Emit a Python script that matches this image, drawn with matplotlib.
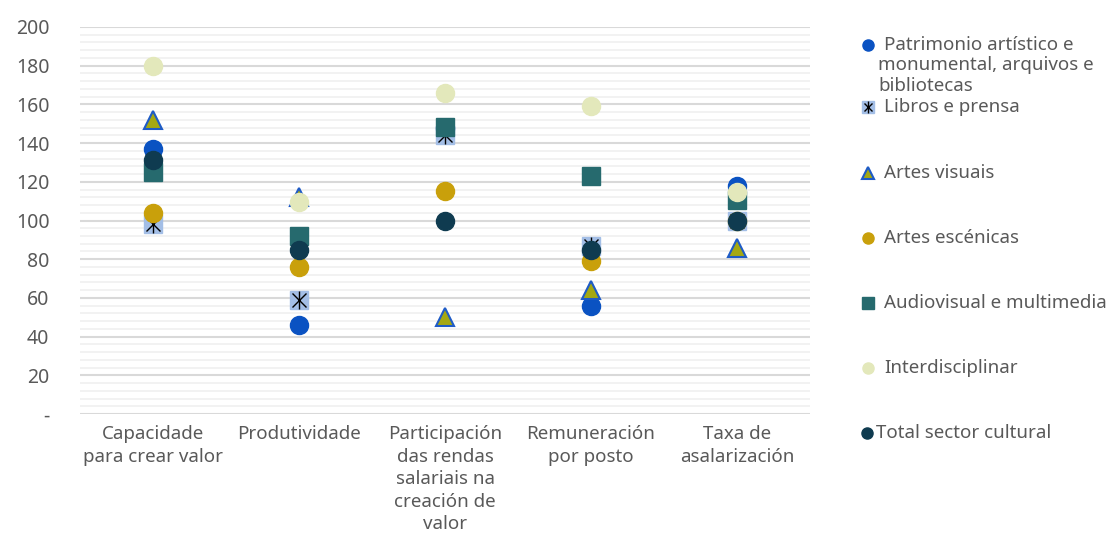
import matplotlib
matplotlib.use("Agg")
import matplotlib.pyplot as plt
from matplotlib.ticker import MultipleLocator, FuncFormatter

plt.rcParams["font.family"] = ["Noto Sans", "DejaVu Sans"]

categories = [
    "Capacidade\npara crear valor",
    "Produtividade",
    "Participación\ndas rendas\nsalariais na\ncreación de\nvalor",
    "Remuneración\npor posto",
    "Taxa de\nasalarización",
]

patrimonio = [137, 46, 148, 56, 118]
libros = [98, 59, 144, 87, 100]
artes_visuais = [152, 112, 50, 64, 86]
artes_escenicas = [104, 76, 115, 79, 100]
audiovisual = [125, 92, 148.5, 123, 110.5]
interdisciplinar = [180, 109.5, 166, 159, 114.5]
total = [131.5, 85, 100, 85, 100]

series_labels = [
    "Patrimonio artístico e\nmonumental, arquivos e\nbibliotecas",
    "Libros e prensa",
    "Artes visuais",
    "Artes escénicas",
    "Audiovisual e multimedia",
    "Interdisciplinar",
    "Total sector cultural",
]

TEXT = "#595959"
styles = [
    dict(marker="o", color="#0A52C2", mec="#0A52C2"),
    dict(marker="s", color="#A3BEE6", mec="#A3BEE6"),
    dict(marker="^", color="#A5A812", mec="#1E5BC6", mew=1.5),
    dict(marker="o", color="#C9A00B", mec="#C9A00B"),
    dict(marker="s", color="#266A6E", mec="#266A6E"),
    dict(marker="o", color="#E3E8BB", mec="#E3E8BB"),
    dict(marker="o", color="#0F3B50", mec="#0F3B50"),
]
all_series = [patrimonio, libros, artes_visuais, artes_escenicas,
              audiovisual, interdisciplinar, total]


def draw_star(a, xs, ys, size, z=None):
    # black "x" plus vertical stroke drawn over the Libros square
    kw = {} if z is None else {"zorder": z}
    a.plot(xs, ys, linestyle="none", marker="x", markersize=size * 0.75,
           color="black", mew=1.0, **kw)
    a.plot(xs, ys, linestyle="none", marker="|", markersize=size,
           color="black", mew=1.0, **kw)


fig = plt.figure(figsize=(11.17, 5.43), dpi=100)
ax = fig.add_axes([80 / 1117, 1 - 414 / 543, 730 / 1117, 387 / 543])

x = list(range(len(categories)))
for i, (vals, st) in enumerate(zip(all_series, styles)):
    ax.plot(x, vals, linestyle="none", markersize=13, zorder=3 + i, **st)
    if i == 1:
        draw_star(ax, x, vals, 13, z=3 + i)

ax.set_xlim(-0.5, len(categories) - 0.5)
ax.set_ylim(0, 200)
ax.yaxis.set_major_locator(MultipleLocator(20))
ax.yaxis.set_minor_locator(MultipleLocator(4))
ax.yaxis.set_major_formatter(FuncFormatter(lambda v, p: "-" if v == 0 else f"{v:.0f}"))
ax.grid(axis="y", which="major", color="#D9D9D9", linewidth=1.5, zorder=0)
ax.grid(axis="y", which="minor", color="#F0F0F0", linewidth=1.2, zorder=0)
ax.set_axisbelow(True)
for s in ax.spines.values():
    s.set_visible(False)
ax.set_xticks(x)
ax.set_xticklabels(categories, fontsize=13.5, color=TEXT, linespacing=1.32)
ax.tick_params(axis="both", which="both", length=0)
ax.tick_params(axis="y", labelsize=14, labelcolor=TEXT, pad=22)
ax.tick_params(axis="x", pad=8)

# legend drawn by hand in pixel coordinates
lax = fig.add_axes([0, 0, 1, 1], facecolor="none")
lax.set_xlim(0, 1117)
lax.set_ylim(543, 0)
lax.axis("off")
leg_y = [45, 107, 173, 238, 303, 368, 433]
for i, (lab, st, yy) in enumerate(zip(series_labels, styles, leg_y)):
    mx = 867 if i == 6 else 868
    tx = 876 if i == 6 else 884
    lax.plot([mx], [yy], linestyle="none", markersize=8, **st)
    if i == 1:
        draw_star(lax, [mx], [yy], 8)
    if i == 0:
        first, rest = lab.split("\n", 1)
        lax.text(tx, yy, first, fontsize=13.5, color=TEXT, va="center")
        lax.text(tx - 6, yy + 11, rest, fontsize=13.5, color=TEXT, va="top",
                 linespacing=1.22)
    else:
        lax.text(tx, yy, lab, fontsize=13.5, color=TEXT, va="center")

fig.savefig("out.png", dpi=100)
